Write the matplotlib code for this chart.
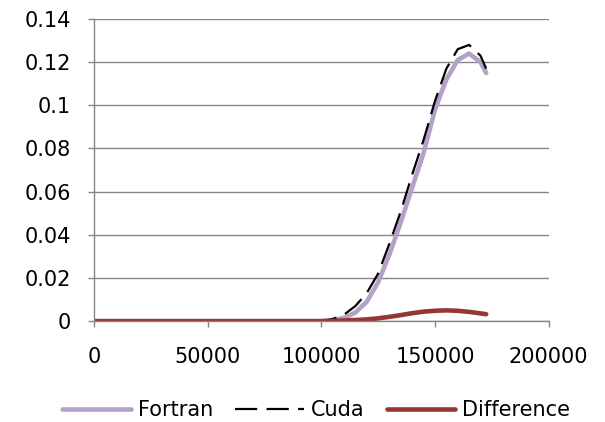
import numpy as np
import matplotlib.pyplot as plt

# values
x = [0, 20000, 40000, 60000, 80000, 100000, 105000, 110000, 115000, 120000,
     125000, 130000, 135000, 140000, 145000, 150000, 155000, 160000, 165000,
     170000, 172500]
fortran = [0, 0, 0, 0, 0, 0, 0.0005, 0.0015, 0.004, 0.009,
           0.018, 0.031, 0.046, 0.062, 0.078, 0.098, 0.112, 0.121, 0.124,
           0.120, 0.115]
cuda = [0, 0, 0, 0, 0, 0, 0.001, 0.003, 0.007, 0.013,
        0.022, 0.036, 0.051, 0.068, 0.084, 0.102, 0.117, 0.126, 0.128,
        0.123, 0.117]
difference = [0, 0, 0, 0, 0, 0, 0.0001, 0.0003, 0.0005, 0.0008,
              0.0013, 0.002, 0.0028, 0.0037, 0.0044, 0.0048, 0.005, 0.0048,
              0.0043, 0.0036, 0.0032]

plt.rcParams['font.family'] = ['DejaVu Sans']
plt.rcParams['font.size'] = 15

fig = plt.figure(figsize=(6.05, 4.22), dpi=100)
ax = fig.add_axes([0.155, 0.239, 0.752, 0.716])

grey = '#868686'
ax.plot(x, fortran, color='#B3A2C7', lw=3.3, solid_capstyle='round', label='Fortran')
ax.plot(x, cuda, color='black', lw=1.6, dashes=(10, 4.2), label='Cuda')
ax.plot(x, difference, color='#953735', lw=3.3, solid_capstyle='round', label='Difference')

ax.set_xlim(0, 200000)
ax.set_ylim(0, 0.14)
ax.set_xticks([0, 50000, 100000, 150000, 200000])
ax.set_xticklabels(['0', '50000', '100000', '150000', '200000'])
ax.set_yticks([0, 0.02, 0.04, 0.06, 0.08, 0.1, 0.12, 0.14])
ax.set_yticklabels(['0', '0.02', '0.04', '0.06', '0.08', '0.1', '0.12', '0.14'])
ax.grid(axis='y', color=grey, lw=1)
ax.set_axisbelow(True)
for s in ['top', 'right']:
    ax.spines[s].set_visible(False)
for s in ['left', 'bottom']:
    ax.spines[s].set_color(grey)
    ax.spines[s].set_linewidth(1)
ax.tick_params(axis='both', direction='out', color=grey, length=4.5, width=1)
ax.tick_params(axis='x', pad=14)
ax.tick_params(axis='y', pad=12)

fig.legend(loc='center', ncol=3, frameon=False, bbox_to_anchor=(0.523, 0.028),
           handlelength=3.3, columnspacing=1.05, handletextpad=0.34)

fig.savefig('out.png', dpi=100)
